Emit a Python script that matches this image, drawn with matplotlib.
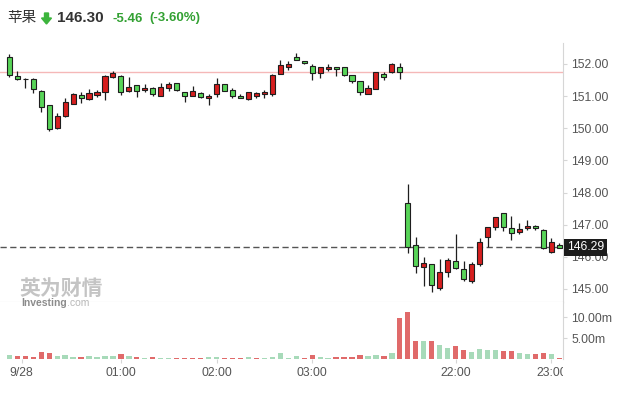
import numpy as np
import matplotlib
matplotlib.use('Agg')
import matplotlib.pyplot as plt
from matplotlib.patches import Polygon
from matplotlib.transforms import blended_transform_factory

plt.rcParams['font.family'] = ['Liberation Sans', 'Noto Sans CJK SC', 'DejaVu Sans']

# ---- data (5 minute candles) ----
opens = [152.21, 151.64, 151.53, 151.52, 151.17, 150.71, 150.00, 150.37, 150.75, 151.03,
         150.90, 151.05, 151.12, 151.61, 151.64, 151.15, 151.34, 151.18, 151.25, 151.01,
         151.26, 151.40, 151.12, 151.01, 151.10, 150.93, 151.06, 151.37, 151.18, 151.00,
         150.90, 151.01, 151.06, 151.07, 151.70, 151.92, 152.21, 152.09, 151.94, 151.71,
         151.84, 151.90, 151.90, 151.66, 151.46, 151.08, 151.23, 151.69, 151.74, 151.90,
         147.67, 146.36, 145.69, 145.77, 145.02, 145.52, 145.86, 145.63, 145.25, 145.77,
         146.62, 146.92, 147.35, 146.89, 146.76, 146.89, 146.95, 146.83, 146.16, 146.37]
highs = [152.30, 151.79, 151.55, 151.55, 151.19, 150.72, 150.47, 150.93, 151.11, 151.12,
         151.22, 151.19, 151.66, 151.78, 151.66, 151.59, 151.35, 151.37, 151.27, 151.40,
         151.45, 151.41, 151.14, 151.31, 151.14, 151.06, 151.55, 151.38, 151.24, 151.06,
         151.13, 151.14, 151.18, 151.68, 152.12, 152.09, 152.33, 152.10, 151.99, 151.91,
         151.99, 151.91, 151.91, 151.67, 151.47, 151.35, 151.75, 151.76, 152.03, 152.02,
         148.26, 146.61, 145.99, 145.78, 145.92, 145.95, 146.70, 145.87, 145.83, 146.58,
         146.93, 147.24, 147.37, 147.26, 147.04, 147.14, 146.99, 146.86, 146.58, 146.42]
lows = [151.60, 151.50, 151.24, 151.09, 150.50, 149.92, 149.98, 150.35, 150.74, 150.78,
        150.88, 150.96, 150.88, 151.56, 151.04, 151.13, 150.98, 151.12, 151.00, 151.00,
        151.16, 151.17, 150.83, 151.00, 150.94, 150.72, 150.98, 151.16, 150.95, 150.93,
        150.89, 150.95, 150.93, 151.01, 151.69, 151.82, 152.12, 152.00, 151.49, 151.55,
        151.78, 151.63, 151.64, 151.40, 151.04, 151.07, 151.22, 151.49, 151.73, 151.53,
        146.11, 145.49, 145.10, 144.92, 144.97, 145.38, 145.62, 145.25, 145.19, 145.70,
        146.30, 146.83, 146.80, 146.52, 146.71, 146.83, 146.83, 146.24, 146.11, 146.27]
closes = [151.66, 151.53, 151.53, 151.21, 150.65, 149.97, 150.39, 150.81, 151.06, 150.93,
          151.09, 151.12, 151.62, 151.71, 151.14, 151.27, 151.17, 151.26, 151.06, 151.27,
          151.37, 151.18, 151.01, 151.15, 150.96, 151.00, 151.37, 151.17, 151.01, 150.93,
          151.12, 151.09, 151.13, 151.66, 151.96, 152.00, 152.13, 152.02, 151.71, 151.90,
          151.90, 151.84, 151.65, 151.46, 151.14, 151.25, 151.74, 151.61, 152.00, 151.74,
          146.32, 145.71, 145.80, 145.12, 145.52, 145.89, 145.64, 145.30, 145.77, 146.46,
          146.92, 147.23, 146.92, 146.73, 146.86, 146.95, 146.89, 146.27, 146.45, 146.29]

# volume in millions, and bar colour (g / r) as drawn
volumes = [0.95, 0.87, 0.87, 0.63, 1.67, 1.4, 0.87, 1.1, 0.63, 0.63,
           0.87, 0.63, 0.87, 0.87, 1.2, 0.87, 0.63, 0.4, 0.63, 0.32,
           0.32, 0.4, 0.4, 0.4, 0.4, 0.55, 0.55, 0.4, 0.4, 0.4,
           0.63, 0.4, 0.4, 0.63, 1.4, 0.4, 0.87, 0.36, 1.0, 0.55,
           0.32, 0.63, 0.63, 0.63, 1.1, 0.87, 1.0, 0.87, 1.6, 9.9,
           11.35, 4.45, 4.45, 4.45, 3.4, 2.6, 3.25, 2.3, 1.8, 2.5,
           2.3, 2.3, 2.05, 2.05, 1.6, 1.35, 1.35, 1.6, 1.35, 0.4]
vol_side = list("grrrrrgggr" "ggggrgrgrg" "grrrrggrrr" "grgggggrrg"
                "grrrrggrgr" "rrgrggrrgg" "ggrrggrrgr")

time_pos = [1.55, 14, 26, 38, 56, 68]
time_labels = ['9/28', '01:00', '02:00', '03:00', '22:00', '23:00']
price_ticks = [145, 146, 147, 148, 149, 150, 151, 152]
vol_ticks = [5, 10]

prev_close = 151.76
last_price = 146.30
last_label = '146.29'

# ---- figure ----
W, H = 618, 397
fig = plt.figure(figsize=(W / 100, H / 100), dpi=100)

def fx(px):
    return px / W

def fy(py):
    return 1 - py / H

RED = '#d61f1f'
GREEN = '#58d458'
EDGE = '#1e1e1e'
GRID = '#d6d6d6'
LBL = '#555555'
XLIM = (-1.17, 69.47)

ax_p = fig.add_axes([0, fy(302), fx(563), (302 - 43) / H])
ax_v = fig.add_axes([0, fy(359.3), fx(563), (359.3 - 302) / H])
ax_t = fig.add_axes([0, fy(392), fx(563), (392 - 361) / H])

o = np.array(opens)
c = np.array(closes)
idx = np.arange(len(o))
up = c >= o
body_b = np.minimum(o, c)
body_h = np.maximum(np.abs(c - o), 0.004)

ax_p.vlines(idx, lows, highs, color=EDGE, lw=0.9, zorder=2)
ax_p.bar(idx, body_h, bottom=body_b, width=0.64,
         color=np.where(up, RED, GREEN), edgecolor=EDGE, linewidth=0.8, zorder=3)

ax_p.axhline(prev_close, color='#f5b8b8', lw=1.0, zorder=1)
ax_p.axhline(last_price, color='#555555', lw=1.0, ls=(0, (4.5, 2.5)), zorder=1)

ax_p.set_xlim(*XLIM)
ax_p.set_ylim(144.595, 152.653)
ax_p.set_xticks([])
ax_p.yaxis.tick_right()
ax_p.set_yticks(price_ticks)
ax_p.set_yticklabels(['%.2f' % t for t in price_ticks])
ax_p.tick_params(axis='y', length=3, color=GRID, labelcolor=LBL, labelsize=8.8, pad=3)
for s in ['left', 'top']:
    ax_p.spines[s].set_visible(False)
ax_p.spines['right'].set_color(GRID)
ax_p.spines['bottom'].set_color('#cccccc')

tr = blended_transform_factory(ax_p.transAxes, ax_p.transData)
ax_p.text(1.007, last_price, last_label, transform=tr, color='white', fontsize=8.8,
          ha='left', va='center', zorder=10,
          bbox=dict(boxstyle='square,pad=0.22', fc='#1c1c1c', ec='none'))

# volume
vcol = ['#a7dab9' if s == 'g' else '#e06a6a' for s in vol_side]
ax_v.bar(idx, volumes, width=0.66, color=vcol, zorder=2)
ax_v.set_xlim(*XLIM)
ax_v.set_ylim(0, 13.64)
ax_v.yaxis.tick_right()
ax_v.set_yticks(vol_ticks)
ax_v.set_yticklabels(['%.2fm' % t for t in vol_ticks])
ax_v.tick_params(axis='y', length=3, color=GRID, labelcolor=LBL, labelsize=8.8, pad=3)
ax_v.set_xticks(time_pos)
ax_v.set_xticklabels([])
ax_v.tick_params(axis='x', length=3, color=GRID, direction='out')
for s in ['left', 'top', 'bottom']:
    ax_v.spines[s].set_visible(False)
ax_v.spines['right'].set_color(GRID)

# time labels, clipped at the plot edge
ax_t.set_xlim(*XLIM)
ax_t.set_ylim(0, 1)
ax_t.axis('off')
for p, lab in zip(time_pos, time_labels):
    ax_t.text(p, 0.6, lab, ha='center', va='center', fontsize=8.8, color=LBL, clip_on=True)

# header
fig.text(fx(7), fy(18), '苹果', fontsize=10.5, color='#333333', ha='left', va='center')
arrow = [(44.5, 13), (48.5, 13), (48.5, 18), (51.5, 18), (46.5, 24), (41.5, 18), (44.5, 18)]
fig.add_artist(Polygon([(fx(x), fy(y)) for x, y in arrow], closed=True,
                       transform=fig.transFigure, color='#3cb43c'))
fig.text(fx(57), fy(18), '146.30', fontsize=11, fontweight='bold', color='#333333',
         ha='left', va='center')
fig.text(fx(112), fy(18.5), '-5.46', fontsize=9.5, fontweight='bold', color='#33a133',
         ha='left', va='center')
fig.text(fx(149), fy(18.5), '(-3.60%)', fontsize=9.5, fontweight='bold', color='#33a133',
         ha='left', va='center')

# watermark
fig.text(fx(19), fy(289), '英为财情', fontsize=15, fontweight='bold', color='#c4c4c4',
         ha='left', va='center', zorder=20)
fig.text(fx(21), fy(303.5), 'Investing', fontsize=7.5, fontweight='bold', color='#8c8c8c',
         ha='left', va='center', zorder=20)
fig.text(fx(66.5), fy(303.5), '.com', fontsize=7.5, color='#b8b8b8',
         ha='left', va='center', zorder=20)

fig.savefig('out.png', dpi=100)
